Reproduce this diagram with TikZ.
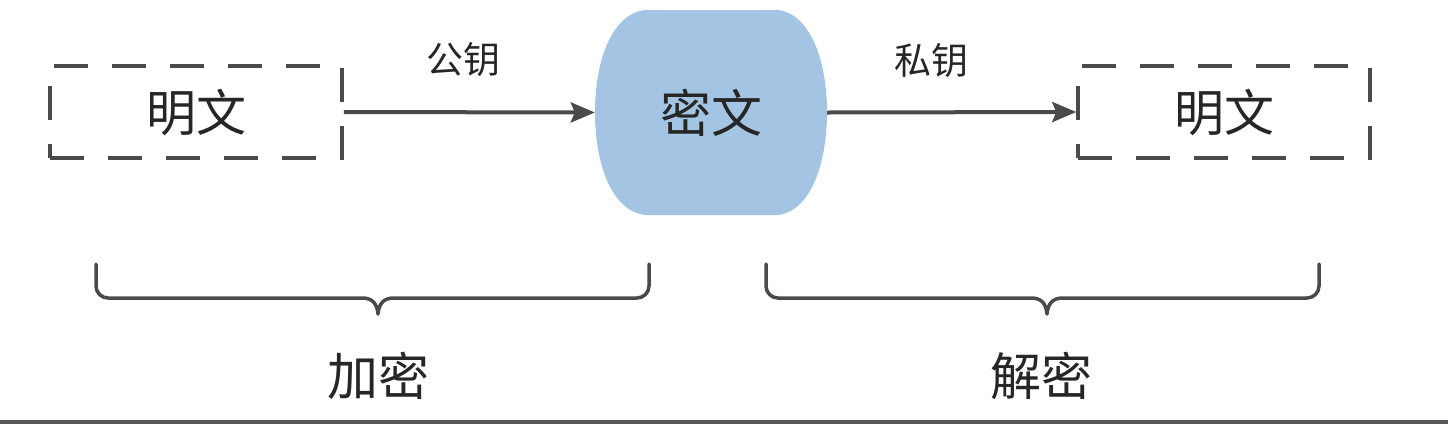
\documentclass[tikz,border=0pt]{standalone}
\usepackage{fontspec}
\setmainfont{Noto Sans CJK SC}
\usetikzlibrary{arrows.meta}
\definecolor{ink}{HTML}{4A4A4A}
\definecolor{cipher}{HTML}{A3C4E2}
\tikzset{
  plainbox/.style={draw=ink, line width=3.5pt, dash pattern=on 34pt off 24pt, minimum width=292pt, minimum height=92pt, inner sep=0pt, font=\fontsize{50pt}{50pt}\selectfont, text=black!85},
  flow/.style={draw=ink, line width=4pt, -{Stealth[length=24pt,width=20pt,inset=4pt]}},
  keylabel/.style={font=\fontsize{37pt}{37pt}\selectfont, text=black!85},
  bigtext/.style={font=\fontsize{51pt}{51pt}\selectfont, text=black!85},
  bracepath/.style={draw=ink, line width=3.5pt, line cap=round, line join=round}
}
\begin{document}
\begin{tikzpicture}[x=1pt,y=-1pt]
\useasboundingbox (0,0) rectangle (1448,424);
\fill[white] (0,0) rectangle (1448,424);
% nodes
\node[plainbox] (p1) at (196,112) {明文};
\node[plainbox] (p2) at (1224,112) {明文};
\node[minimum width=232pt, minimum height=205pt, inner sep=0pt] (c) at (711,112.5) {};
% barrel shape
\fill[cipher] (645,10) -- (778,10)
  .. controls (810,14) and (827,60) .. (827,112)
  .. controls (827,165) and (810,211) .. (778,215)
  -- (645,215)
  .. controls (612,211) and (595,165) .. (595,112)
  .. controls (595,60) and (612,14) .. (645,10) -- cycle;
\node[bigtext] (ct) at (c.center) {密文};
% arrows
\draw[flow] (p1.east) -- (c.west);
\draw[flow] (c.east) -- (p2.west);
\node[keylabel] (k1) at (463,60) {公钥};
\node[keylabel] (k2) at (931,61) {私钥};
% braces
\coordinate (b1tip) at (378,314);
\coordinate (b2tip) at (1047,314);
\draw[bracepath] (96,264) -- (96,286) arc[start angle=180,end angle=90,radius=12] -- (362,298)
  .. controls (372,298) and (377,303) .. (b1tip)
  .. controls (379,303) and (384,298) .. (394,298) -- (637,298)
  arc[start angle=90,end angle=0,radius=12] -- (649,264);
\draw[bracepath] (766,264) -- (766,286) arc[start angle=180,end angle=90,radius=12] -- (1031,298)
  .. controls (1041,298) and (1046,303) .. (b2tip)
  .. controls (1048,303) and (1053,298) .. (1063,298) -- (1307,298)
  arc[start angle=90,end angle=0,radius=12] -- (1319,264);
\node[bigtext] (enc) at (378,376) {加密};
\node[bigtext] (dec) at (1041,376) {解密};
% bottom bar
\fill[black!65] (0,419.5) rectangle (1448,424);
\end{tikzpicture}
\end{document}
